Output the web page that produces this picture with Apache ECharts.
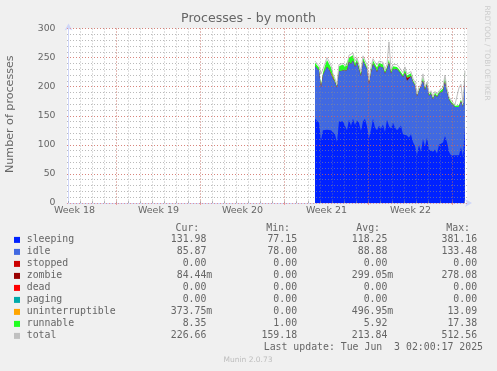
<!DOCTYPE html>
<html><head><meta charset="utf-8">
<script src="https://cdn.jsdelivr.net/npm/echarts@6/dist/echarts.min.js"></script>
<style>html,body{margin:0;padding:0;background:#f0f0f0}#c{width:497px;height:371px}</style>
</head><body><div id="c"></div><script>
// ---- axis data ----
const weekLabels = ['Week 18', 'Week 19', 'Week 20', 'Week 21', 'Week 22'];
const weekLabelDays = [0.5, 7.5, 14.5, 21.5, 28.5];
const weekStartDays = [4, 11, 18, 25, 32];
const dayTicks = [0,1,2,3,4,5,6,7,8,9,10,11,12,13,14,15,16,17,18,19,20,21,22,23,24,25,26,27,28,29,30,31,32,33];
const yMinorStep = 10;
const yMajorStep = 50;
// samples: every 4 hours starting at day 20.54
const startDay = 20.54;
const stepDay = 1 / 6;

// ---- series values ----
const sleeping = [145,143,138,108,125,128,126,124,125,122,
  118,105,140,140,140,138,125,143,133,145,
  134,142,138,124,140,145,132,112,126,145,
  130,125,133,128,135,122,143,132,128,138,
  130,125,128,133,118,120,116,112,118,105,
  98,83,100,88,110,97,112,92,90,88,
  92,85,100,100,104,115,105,88,82,85,
  82,84,82,96,80,131.98];
const idle = [90,92,90,90,95,100,108,106,102,92,
  90,93,86,88,88,88,103,100,106,100,
  100,100,92,94,104,98,98,92,98,94,
  104,100,102,108,98,100,87,110,94,92,
  102,105,98,90,98,104,94,100,100,103,
  104,100,93,108,100,97,92,92,98,90,
  94,97,88,86,88,94,86,90,90,84,
  83,80,83,79,85,85.87];
const zombie = [0,0,0,0,0,0,0,0,0,1,
  0,0,0,0,0,0,0,0,0,0,
  0,0,0,0,0,0,0,0,0,0,
  0,0,0,0,0,0,0,0,0,0,
  0,0,0,0,0,0,5,0,0,0,
  0,0,0,0,0,0,0,0,0,0,
  0,0,0,0,0,0,0,0,0,0,
  0,0,0,0,0,0.08];
const uninterruptible = [0,0,0,0,0,0,0,0,0,3,
  0,0,0,0,0,0,0,0,0,0,
  0,0,0,0,0,0,0,3,0,0,
  0,0,0,0,0,0,0,0,0,0,
  0,0,0,0,0,0,0,0,0,0,
  0,0,0,0,0,0,0,0,0,0,
  0,0,0,0,0,0,0,0,0,0,
  0,0,0,0,0,0.37];
const runnable = [6,7,5,3,4,8,12,10,6,4,
  3,3,9,10,10,8,5,7,8,9,
  6,5,5,4,6,5,4,3,5,6,
  10,8,6,5,5,4,4,5,4,5,
  5,4,4,5,4,6,4,4,5,3,
  3,2,3,4,8,4,3,3,3,3,
  4,3,3,4,5,8,4,3,3,2,
  2,2,3,3,2,8.35];
const total = [244,245,236,222,230,240,250,244,237,222,
  214,204,238,240,240,237,236,254,251,258,
  244,250,238,226,253,252,238,211,233,248,
  248,237,244,246,242,230,238,277,230,238,
  240,238,234,232,224,234,222,220,226,214,
  208,188,199,204,222,200,208,189,193,183,
  192,187,193,192,199,220,197,183,177,173,
  169,170,198,204,172,226.66];

// ---- legend table ----
const legendNames = ['sleeping','idle','stopped','zombie','dead','paging','uninterruptible','runnable','total'];
const legendColors = ['#0022ff','#4169e1','#cc0000','#990000','#ff0000','#00aaaa','#ffa500','#22ff22','#c0c0c0'];
const curVals = ['131.98 ','85.87 ','0.00 ','84.44m','0.00 ','0.00 ','373.75m','8.35 ','226.66 '];
const minVals = ['77.15 ','78.00 ','0.00 ','0.00 ','0.00 ','0.00 ','0.00 ','1.00 ','159.18 '];
const avgVals = ['118.25 ','88.88 ','0.00 ','299.05m','0.00 ','0.00 ','496.95m','5.92 ','213.84 '];
const maxVals = ['381.16 ','133.48 ','0.00 ','278.08 ','0.00 ','0.00 ','13.09 ','17.38 ','512.56 '];
const headers = ['Cur:', 'Min:', 'Avg:', 'Max:'];
const lastUpdate = 'Last update: Tue Jun  3 02:00:17 2025';

// ---- build ----
const times = sleeping.map((_, i) => startDay + i * stepDay);
const FONT = '#666666';
const AXIS = '#CFD6F8';
const GRID = 'rgba(140,140,140,0.6)';
const MGRID = 'rgba(245,79,61,0.5)';
const SANS = 'DejaVu Sans';
const MONO = 'DejaVu Sans Mono';
const xMin = -0.125, xMax = -0.125 + 400 / 12;

// stack order bottom -> top (manual stacking: each area drawn from 0 up to its cumulative top,
// higher layers painted first so lower layers cover them)
const layers = [
  { name: 'sleeping', data: sleeping, color: legendColors[0] },
  { name: 'idle', data: idle, color: legendColors[1] },
  { name: 'zombie', data: zombie, color: legendColors[3] },
  { name: 'uninterruptible', data: uninterruptible, color: legendColors[6] },
  { name: 'runnable', data: runnable, color: legendColors[7] }
];
let running = times.map(() => 0);
const series = [];
layers.forEach((L, k) => {
  running = running.map((v, i) => v + L.data[i]);
  series.push({
    name: L.name, type: 'line', data: running.map((v, i) => [times[i], v]),
    symbol: 'none', showSymbol: false, lineStyle: { width: 0 },
    areaStyle: { color: L.color, opacity: 1, origin: 'start' }, itemStyle: { color: L.color },
    xAxisIndex: 0, yAxisIndex: 0, z: 2, zlevel: 0
  });
});
// paint order: topmost cumulative first
series.forEach((s, k) => { s.z = 2 + (layers.length - k) * 0.01; });
series.reverse();
series.forEach((s, k) => { s.z = 2; });
series.push({ name: 'total', type: 'line', data: total.map((v, i) => [times[i], v]), symbol: 'none', showSymbol: false,
  lineStyle: { width: 1, color: legendColors[8] }, xAxisIndex: 0, yAxisIndex: 0, z: 3 });

// legend graphics
const graphics = [];
const rowY0 = 239.7, rowH = 12;
const colRight = [212.3, 303, 393.3, 483];
const headRight = [199.3, 290, 380, 470];
const monoFont = '9.85px "' + MONO + '"';
headers.forEach((h, j) => graphics.push({ type: 'text', x: headRight[j], y: 228.3,
  style: { text: h, fill: FONT, font: monoFont, textAlign: 'right', textVerticalAlign: 'middle' } }));
legendNames.forEach((n, i) => {
  const y = rowY0 + i * rowH;
  graphics.push({ type: 'rect', shape: { x: 14, y: y - 2.8, width: 6, height: 6 }, style: { fill: legendColors[i] } });
  graphics.push({ type: 'text', x: 26.7, y, style: { text: n, fill: FONT, font: monoFont, textAlign: 'left', textVerticalAlign: 'middle' } });
  [curVals, minVals, avgVals, maxVals].forEach((arr, j) => graphics.push({ type: 'text', x: colRight[j], y,
    style: { text: arr[i], fill: FONT, font: monoFont, textAlign: 'right', textVerticalAlign: 'middle' } }));
});
graphics.push({ type: 'text', x: 483, y: 347.7, style: { text: lastUpdate, fill: FONT, font: monoFont, textAlign: 'right', textVerticalAlign: 'middle' } });
graphics.push({ type: 'text', x: 248, y: 360, style: { text: 'Munin 2.0.73', fill: '#bdbdbd', font: '7.5px "' + SANS + '"', textAlign: 'center', textVerticalAlign: 'middle' } });
graphics.push({ type: 'text', x: 10.5, y: 114.2, rotation: Math.PI / 2,
  style: { text: 'Number of processes', fill: FONT, font: '11.1px "' + SANS + '"', textAlign: 'center', textVerticalAlign: 'middle' } });
graphics.push({ type: 'text', x: 487, y: 53, rotation: -Math.PI / 2,
  style: { text: 'RRDTOOL / TOBI OETIKER', fill: '#cccccc', font: '7.4px "' + SANS + '"', textAlign: 'center', textVerticalAlign: 'middle' } });

const chart = echarts.init(document.getElementById('c'), null, { renderer: 'canvas' });
chart.setOption({
  animation: false,
  backgroundColor: '#f0f0f0',
  title: { text: 'Processes - by month', left: 'center', top: 12, padding: 0,
    textStyle: { fontFamily: SANS, fontSize: 12.6, fontWeight: 'normal', color: FONT } },
  grid: { left: 67, top: 28.5, width: 400, height: 174.5, show: true, backgroundColor: '#ffffff', borderWidth: 0, containLabel: false },
  xAxis: [
    { type: 'value', min: xMin, max: xMax, z: 5,
      axisLine: { show: true, lineStyle: { color: AXIS, width: 1 }, symbol: ['none', 'arrow'], symbolSize: [6, 7], symbolOffset: [0, 5] },
      axisTick: { show: true, customValues: dayTicks, length: 2, inside: true, lineStyle: { color: GRID } },
      axisLabel: { show: true, customValues: weekLabelDays, margin: 3, color: FONT, fontFamily: SANS, fontSize: 9.5,
        formatter: v => { const k = weekLabelDays.findIndex(d => Math.abs(d - v) < 1e-6); return k >= 0 ? weekLabels[k] : ''; } },
      splitLine: { show: true, lineStyle: { color: GRID, width: 1, type: [1, 2] } } },
    { type: 'value', min: xMin, max: xMax, z: 6,
      axisLine: { show: false },
      axisTick: { show: true, customValues: weekStartDays, length: 2, inside: true, lineStyle: { color: MGRID } },
      axisLabel: { show: false },
      splitLine: { show: true, lineStyle: { color: MGRID, width: 1, type: [1, 2] } } }
  ],
  yAxis: [
    { type: 'value', min: 0, max: 300, interval: yMinorStep, z: 5,
      axisLine: { show: true, lineStyle: { color: AXIS, width: 1 }, symbol: ['none', 'arrow'], symbolSize: [6, 7], symbolOffset: [0, 5] },
      axisTick: { show: false }, axisLabel: { show: false },
      splitLine: { show: true, lineStyle: { color: GRID, width: 1, type: [1, 2] } } },
    { type: 'value', min: 0, max: 300, interval: yMajorStep, position: 'left', z: 6,
      axisLine: { show: false }, axisTick: { show: false },
      axisLabel: { show: true, margin: 11.5, color: FONT, fontFamily: SANS, fontSize: 9.3 },
      splitLine: { show: true, lineStyle: { color: MGRID, width: 1, type: [1, 2] } } }
  ],
  series,
  graphic: graphics
});
</script></body></html>
